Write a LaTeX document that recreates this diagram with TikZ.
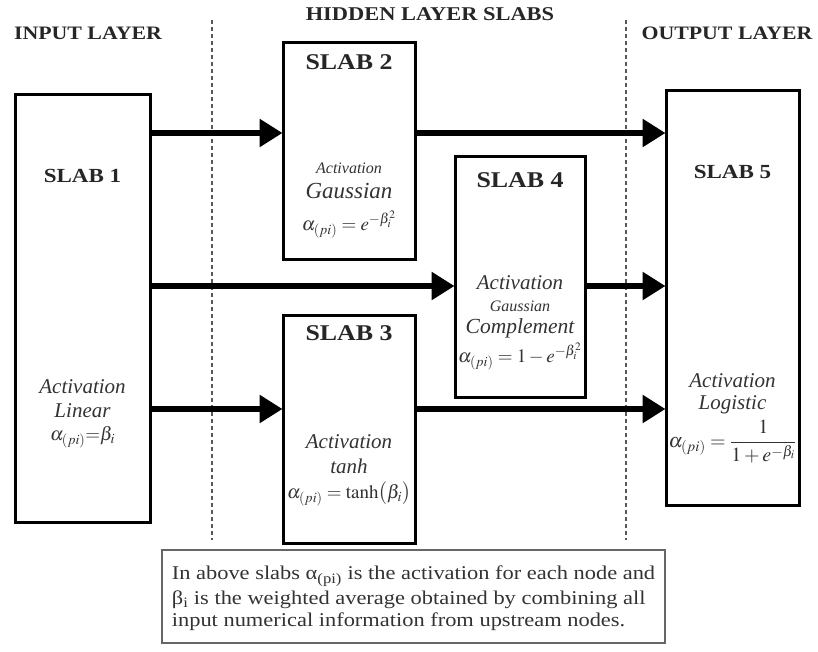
\documentclass[tikz,border=0pt]{standalone}
\usepackage{mathptmx}
\usepackage[no-math]{fontspec}
\setmainfont{Liberation Serif}
\newfontfamily\wide[FakeStretch=1.15]{Liberation Serif}
\usetikzlibrary{arrows.meta}
\newcommand{\fsz}[1]{\fontsize{#1}{#1}\selectfont}
\begin{document}
\begin{tikzpicture}[x=1pt,y=-1pt,
  slab/.style={draw=black,line width=3pt,fill=white,inner sep=0pt},
  head/.style={font=\wide\fsz{19}\bfseries,text=black!85,inner sep=0pt},
  title/.style={font=\wide\fsz{20}\bfseries,text=black!85,inner sep=0pt},
  bigtitle/.style={font=\wide\fsz{22.5}\bfseries,text=black!85,inner sep=0pt},
  body/.style={font=\fsz{21}\itshape,text=black!80,inner sep=0pt},
  small/.style={font=\fsz{16}\itshape,text=black!80,inner sep=0pt},
  frm/.style={font=\fsz{19},text=black!80,inner sep=0pt},
  sep/.style={draw=black!65,line width=1.2pt,dash pattern=on 4pt off 3pt},
  flow/.style={line width=6pt,-{Triangle[length=23pt,width=27pt]},shorten >=-1pt}]
\useasboundingbox (0,0) rectangle (818,651);
% headers
\node[head] (hin) at (88,33) {INPUT LAYER};
\node[head,font=\wide\fsz{19.5}\bfseries] (hhid) at (430,14) {HIDDEN LAYER SLABS};
\node[head] (hout) at (727,33) {OUTPUT LAYER};
% separators
\coordinate (d1t) at (212,20); \coordinate (d1b) at (212,540);
\coordinate (d2t) at (626,20); \coordinate (d2b) at (626,540);
\draw[sep] (d1t) -- (d1b);
\draw[sep] (d2t) -- (d2b);
% slabs
\node[slab,minimum width=135pt,minimum height=428pt] (s1) at (82.5,308) {};
\node[slab,minimum width=132pt,minimum height=217pt] (s2) at (349,150.5) {};
\node[slab,minimum width=130pt,minimum height=241pt] (s4) at (520,276.5) {};
\node[slab,minimum width=132pt,minimum height=228pt] (s3) at (349,429) {};
\node[slab,minimum width=133pt,minimum height=415pt] (s5) at (732.5,297.5) {};
% slab 1
\node[title] (t1) at (82.5,176) {SLAB 1};
\node[body] (a1) at (82.5,387) {Activation};
\node[body] (b1) at (82.5,411) {Linear};
\node[frm] (f1) at (82.5,437) {$\alpha_{(pi)}{=}\beta_i$};
% slab 2
\node[bigtitle] (t2) at (349,62) {SLAB 2};
\node[small] (a2) at (349,168) {Activation};
\node[body,font=\fsz{23}\itshape] (b2) at (349,191) {Gaussian};
\node[frm] (f2) at (349,224) {$\alpha_{(pi)}=e^{-\beta_i^2}$};
% slab 4
\node[bigtitle] (t4) at (520,180) {SLAB 4};
\node[body] (a4) at (520,283) {Activation};
\node[small] (g4) at (520,306) {Gaussian};
\node[body,font=\fsz{21.5}\itshape] (b4) at (520,328) {Complement};
\node[frm] (f4) at (520,356) {$\alpha_{(pi)}=1-e^{-\beta_i^2}$};
% slab 3
\node[bigtitle] (t3) at (349,333) {SLAB 3};
\node[body] (a3) at (349,442) {Activation};
\node[body] (b3) at (349,466) {tanh};
\node[frm] (f3) at (349,494) {$\alpha_{(pi)}=\tanh\bigl(\beta_i\bigr)$};
% slab 5
\node[title] (t5) at (732.5,172) {SLAB 5};
\node[body] (a5) at (732.5,381) {Activation};
\node[body] (b5) at (732.5,405) {Logistic};
\node[frm,font=\fsz{20}] (f5) at (732.5,442) {$\displaystyle\alpha_{(pi)}=\frac{1}{1+e^{-\beta_i}}$};
% flows
\coordinate (r1) at (0,133);
\coordinate (r2) at (0,286);
\coordinate (r3) at (0,409);
\draw[flow] (s1.east |- r1) -- (s2.west |- r1);
\draw[flow] (s2.east |- r1) -- (s5.west |- r1);
\draw[flow] (s1.east |- r2) -- (s4.west |- r2);
\draw[flow] (s4.east |- r2) -- (s5.west |- r2);
\draw[flow] (s1.east |- r3) -- (s3.west |- r3);
\draw[flow] (s3.east |- r3) -- (s5.west |- r3);
% note
\node[draw=black!60,line width=2pt,minimum width=503pt,minimum height=93pt,inner sep=0pt,fill=white] (note) at (413.5,596.5) {};
\node[font=\wide\fsz{19.5},text=black!80,align=left,inner sep=0pt] (notetext) at ([yshift=-2pt]note.center)
 {In above slabs α\textsubscript{(pi)} is the activation for each node and\\[3pt]
  β\textsubscript{i} is the weighted average obtained by combining all\\[3pt]
  input numerical information from upstream nodes.};
\end{tikzpicture}
\end{document}
